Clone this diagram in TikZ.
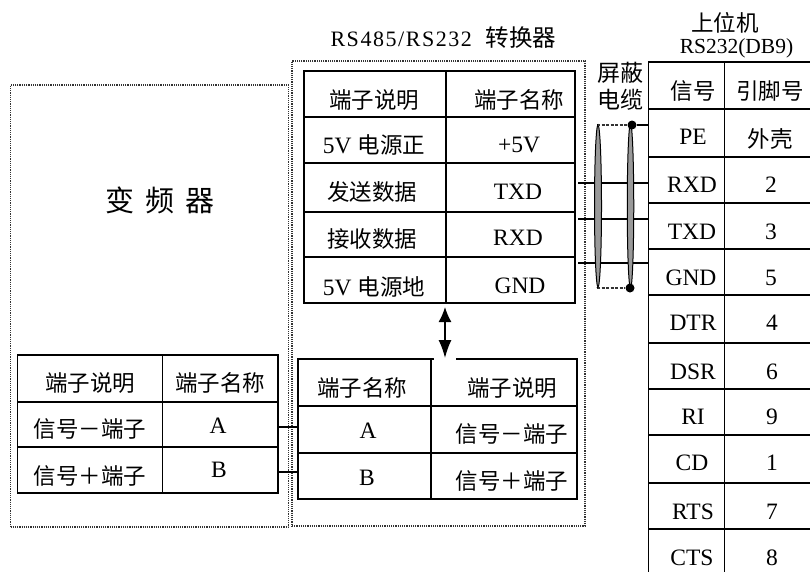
\documentclass[tikz,border=0pt]{standalone}
\usepackage{fontspec}
\setmainfont{Liberation Serif}
\newfontfamily\cjk{Noto Sans CJK SC}
\usetikzlibrary{arrows.meta,shapes.geometric,calc}
\newcommand{\mkcell}[5]{%
  \pgfmathsetmacro\cellw{#4-#2}\pgfmathsetmacro\cellh{#5-#3}%
  \pgfmathsetmacro\cellx{(#4+#2)/2}\pgfmathsetmacro\celly{(#5+#3)/2}%
  \node[tablecell,minimum width=\cellw pt,minimum height=\cellh pt] (#1) at (\cellx,\celly) {};}
\newcommand{\zh}[3]{\node[zhtext] at (#1,#2) {#3};}
\newcommand{\lat}[3]{\node[lattext] at (#1,#2) {#3};}
\tikzset{
  tablecell/.style={draw=black,line width=1.3pt,inner sep=0pt,outer sep=0pt,rectangle},
  zhtext/.style={font=\cjk\fontsize{22.5}{24}\selectfont,inner sep=0pt,text=black},
  lattext/.style={font=\fontsize{23.5}{25}\selectfont,inner sep=0pt,text=black},
  dotbox/.style={draw=black!80,line width=1.8pt,dash pattern=on 1.2pt off 1pt,inner sep=0pt,outer sep=0pt,rectangle},
  wire/.style={draw=black,line width=1.2pt},
  shield/.style={ellipse,draw=black,fill=black!40,line width=1pt,inner sep=0pt,outer sep=0pt},
  drainline/.style={draw=black!80,line width=1.5pt,dash pattern=on 3pt off 1.5pt},
  dotjoint/.style={circle,fill=black,inner sep=0pt,minimum size=9pt},
  dblarrow/.style={draw=black,line width=1.5pt,{Latex[length=15pt,width=13pt]}-{Latex[length=18pt,width=13pt]}}
}
\begin{document}
\begin{tikzpicture}[x=1pt,y=-1pt]
\useasboundingbox (0,0) rectangle (810,571);
\fill[white] (0,0) rectangle (810,571);
\clip (0,0) rectangle (810,571);
% dotted enclosures
\node[dotbox,minimum width=278pt,minimum height=442pt] (inverter) at (149.5,306) {};
\node[dotbox,minimum width=293pt,minimum height=465pt] (converter) at (438.5,293.5) {};
% titles
\node[zhtext,font=\cjk\fontsize{29}{31}\selectfont] (invtitle) at (160,200) {变\hspace{11pt}频\hspace{11pt}器};
\node[inner sep=0pt,text=black] (convtitle) at (443.5,38) {\addfontfeature{LetterSpace=7}\fontsize{22}{24}\selectfont RS485/RS232\ \ \cjk\fontsize{23.5}{24}\selectfont 转换器};
\node[zhtext] (pctitle) at (725,23) {上位机};
\node[inner sep=0pt,text=black,font=\fontsize{21.5}{23}\selectfont] (pcsub) at (736.5,48) {RS232(DB9)};
\node[zhtext,align=center,font=\cjk\fontsize{23}{27}\selectfont] (cabletitle) at (620,86) {屏蔽\\电缆};
% converter top table
\mkcell{cHL}{304}{71}{446}{117}\mkcell{cHR}{446}{71}{575}{117}
\mkcell{cVL}{304}{117}{446}{163}\mkcell{cVR}{446}{117}{575}{163}
\mkcell{cTL}{304}{163}{446}{212}\mkcell{cTR}{446}{163}{575}{212}
\mkcell{cRL}{304}{212}{446}{257}\mkcell{cRR}{446}{212}{575}{257}
\mkcell{cGL}{304}{257}{446}{303}\mkcell{cGR}{446}{257}{575}{303}
\zh{374}{100}{端子说明}\zh{519}{100}{端子名称}
\node[zhtext] at (374,145) {\fontsize{23.5}{25}\selectfont\rmfamily 5V \cjk\fontsize{22.5}{24}\selectfont 电源正};
\lat{519}{145}{+5V}
\zh{372}{192}{发送数据}\lat{518}{192}{TXD}
\zh{372}{239}{接收数据}\lat{518}{238}{RXD}
\node[zhtext] at (374,287) {\fontsize{23.5}{25}\selectfont\rmfamily 5V \cjk\fontsize{22.5}{24}\selectfont 电源地};
\lat{520}{286}{GND}
% converter bottom table
\mkcell{bHL}{298}{359}{431}{406}\mkcell{bHR}{431}{359}{577}{406}
\mkcell{bAL}{298}{406}{431}{453}\mkcell{bAR}{431}{406}{577}{453}
\mkcell{bBL}{298}{453}{431}{499}\mkcell{bBR}{431}{453}{577}{499}
\zh{362}{388}{端子名称}\zh{512}{388}{端子说明}
\lat{368}{431}{A}\zh{512}{434}{信号－端子}
\lat{367}{478}{B}\zh{512}{481}{信号＋端子}
\draw[white,line width=2.5pt] (433.5,359) -- (456,359);
% inverter table
\mkcell{iHL}{17.5}{355}{162.5}{402}\mkcell{iHR}{162.5}{355}{278}{402}
\mkcell{iAL}{17.5}{402}{162.5}{447}\mkcell{iAR}{162.5}{402}{278}{447}
\mkcell{iBL}{17.5}{447}{162.5}{493}\mkcell{iBR}{162.5}{447}{278}{493}
\zh{90}{383}{端子说明}\zh{220}{383}{端子名称}
\zh{90}{429}{信号－端子}\lat{218}{426}{A}
\zh{90}{476}{信号＋端子}\lat{219}{470}{B}
% PC table
\mkcell{pH1}{648.5}{62}{724.5}{109}\mkcell{pH2}{724.5}{62}{830}{109}
\mkcell{pPE1}{648.5}{109}{724.5}{157}\mkcell{pPE2}{724.5}{109}{830}{157}
\mkcell{pRX1}{648.5}{157}{724.5}{203}\mkcell{pRX2}{724.5}{157}{830}{203}
\mkcell{pTX1}{648.5}{203}{724.5}{249}\mkcell{pTX2}{724.5}{203}{830}{249}
\mkcell{pGN1}{648.5}{249}{724.5}{295}\mkcell{pGN2}{724.5}{249}{830}{295}
\mkcell{pDT1}{648.5}{295}{724.5}{343}\mkcell{pDT2}{724.5}{295}{830}{343}
\mkcell{pDS1}{648.5}{343}{724.5}{389}\mkcell{pDS2}{724.5}{343}{830}{389}
\mkcell{pRI1}{648.5}{389}{724.5}{435}\mkcell{pRI2}{724.5}{389}{830}{435}
\mkcell{pCD1}{648.5}{435}{724.5}{483}\mkcell{pCD2}{724.5}{435}{830}{483}
\mkcell{pRT1}{648.5}{483}{724.5}{529}\mkcell{pRT2}{724.5}{483}{830}{529}
\mkcell{pCT1}{648.5}{529}{724.5}{590}\mkcell{pCT2}{724.5}{529}{830}{590}
\zh{693}{91}{信号}\zh{770}{91}{引脚号}
\lat{693}{137}{PE}\zh{770}{139}{外壳}
\lat{692}{185}{RXD}\lat{771}{185}{2}
\lat{692}{232}{TXD}\lat{771}{232}{3}
\lat{691}{278}{GND}\lat{771}{278}{5}
\lat{693}{323}{DTR}\lat{772}{323}{4}
\lat{693}{372}{DSR}\lat{772}{372}{6}
\lat{693}{417}{RI}\lat{772}{417}{9}
\lat{692}{463}{CD}\lat{772}{463}{1}
\lat{693}{512}{RTS}\lat{772}{512}{7}
\lat{692}{558}{CTS}\lat{772}{558}{8}
% link inverter - converter
\draw[wire] (iAR.east |- 0,427) -- (bAL.west |- 0,427);
\draw[wire] (iBR.east |- 0,472) -- (bBL.west |- 0,472);
% cable wires
\draw[wire] ($(cTR.east |- 0,183)+(3,0)$) -- (pRX1.west |- 0,183);
\draw[wire] ($(cRR.east |- 0,219)+(3,0)$) -- (pTX1.west |- 0,219);
\draw[wire] ($(cGR.east |- 0,263)+(3,0)$) -- (pGN1.west |- 0,263);
% shield
\node[shield,minimum width=7pt,minimum height=162pt] (shieldA) at (598,206) {};
\node[shield,minimum width=6.5pt,minimum height=164pt] (shieldB) at (630.5,206) {};
\node[dotjoint] (jointT) at (632,125) {};
\node[dotjoint] (jointB) at (630,288) {};
\coordinate (peT) at (597,125);
\coordinate (peB) at (597,288);
\draw[drainline] (peT) -- (jointT);
\draw[drainline] (peB) -- (jointB);
\draw[wire] (peT) -- (shieldA.north);
\draw[wire] (peB) -- (shieldA.south);
\draw[wire] (jointT) -- (pPE1.west |- jointT);
% double arrow
\coordinate (arrTop) at (445,307);
\coordinate (arrBot) at (445,358);
\draw[dblarrow] (arrTop) -- (arrBot);
\end{tikzpicture}
\end{document}
